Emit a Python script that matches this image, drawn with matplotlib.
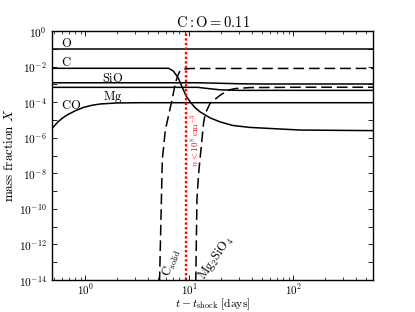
import matplotlib
matplotlib.use("Agg")
import matplotlib.pyplot as plt
from matplotlib.ticker import LogLocator, FuncFormatter, NullLocator
import numpy as np

plt.rcParams['mathtext.fontset'] = 'cm'
plt.rcParams['font.family'] = 'serif'

# ---- data ----
t_O = [0.48, 600]
X_O = [0.093, 0.093]

t_C = [0.48, 6.3, 7.0, 7.8, 8.5, 9.3, 10.2, 11.4, 12.7, 15.8, 19.8, 26, 38, 60, 116, 600]
X_C = [8.0e-3, 8.0e-3, 5.6e-3, 2.3e-3, 7.1e-4, 2.2e-4, 1.0e-4, 4.7e-5, 2.8e-5,
       1.3e-5, 7.7e-6, 4.9e-6, 3.8e-6, 3.3e-6, 2.7e-6, 2.5e-6]

t_SiO = [0.48, 12, 20, 30, 50, 600]
X_SiO = [1.23e-3, 1.23e-3, 1.15e-3, 1.08e-3, 1.05e-3, 1.05e-3]

t_Mg = [0.48, 12, 16, 20, 30, 600]
X_Mg = [6.8e-4, 6.8e-4, 5.6e-4, 4.9e-4, 4.6e-4, 4.6e-4]

t_CO = [0.48, 0.535, 0.597, 0.667, 0.80, 0.96, 1.16, 1.39, 2.0, 3.4, 6.1, 600]
X_CO = [3.4e-6, 7.0e-6, 1.24e-5, 1.9e-5, 3.3e-5, 5.1e-5, 6.7e-5, 7.9e-5, 9.0e-5,
        9.3e-5, 9.3e-5, 9.3e-5]

t_Csol = [5.1, 5.16, 5.48, 5.86, 6.79, 7.31, 7.76, 8.16, 8.9, 10.2, 600]
X_Csol = [1e-15, 1e-14, 5.6e-8, 2.7e-6, 1.3e-4, 1.15e-3, 3.4e-3, 6.0e-3, 7.3e-3, 7.8e-3, 7.9e-3]

t_Mg2 = [11.45, 11.5, 11.8, 12.2, 12.7, 13.65, 14.2, 15.8, 19.8, 23.7, 27.5, 38, 116, 600]
X_Mg2 = [1e-15, 1e-14, 3.2e-10, 7.9e-9, 8.5e-8, 6.5e-6, 2.3e-5, 8.7e-5, 2.5e-4,
         4.8e-4, 5.8e-4, 6.6e-4, 6.9e-4, 6.9e-4]

t_density = 9.25

species_labels = ['O', 'C', 'SiO', 'Mg', 'CO']
label_t = [0.66, 0.65, 1.85, 1.82, 0.72]
label_X = [0.19, 0.0163, 2.1e-3, 1.95e-4, 6.2e-5]

# ---- figure ----
fig = plt.figure(figsize=(4.15, 3.12), dpi=100)
ax = fig.add_axes([0.126, 0.1026, 0.7735, 0.798])

lw = 1.1
for t, X in [(t_O, X_O), (t_C, X_C), (t_SiO, X_SiO), (t_Mg, X_Mg), (t_CO, X_CO)]:
    ax.plot(t, X, color='black', lw=lw)
for t, X in [(t_Csol, X_Csol), (t_Mg2, X_Mg2)]:
    ax.plot(t, X, color='black', lw=lw, dashes=(7, 3.2))

ax.axvline(t_density, color='red', lw=1.7, dashes=(1, 0.95), dash_capstyle='butt')

ax.set_xscale('log')
ax.set_yscale('log')
ax.set_xlim(0.48, 585)
ax.set_ylim(1e-14, 1)

ax.yaxis.set_major_locator(LogLocator(base=10, numticks=30))
ax.yaxis.set_minor_locator(NullLocator())
ax.yaxis.set_major_formatter(FuncFormatter(
    lambda v, p: (r'$10^{%d}$' % int(round(np.log10(v)))) if int(round(np.log10(v))) % 2 == 0 else ''))
ax.xaxis.set_major_formatter(FuncFormatter(lambda v, p: r'$10^{%d}$' % int(round(np.log10(v)))))
ax.xaxis.set_minor_locator(LogLocator(base=10, subs=np.arange(2, 10), numticks=30))

ax.tick_params(which='both', direction='in', top=True, right=True, labelsize=8.2)
ax.tick_params(axis='y', pad=4)
ax.tick_params(axis='x', pad=1.5, labelsize=8.0)
ax.tick_params(which='major', length=3.5, width=0.6)
ax.tick_params(which='minor', length=2, width=0.5)
for s in ax.spines.values():
    s.set_linewidth(1.0)

for lab, tx, Xy in zip(species_labels, label_t, label_X):
    ax.text(tx, Xy, r'$\mathrm{%s}$' % lab, fontsize=9, ha='center', va='center')

ax.text(6.75, 9e-14, r'$\mathrm{C_{solid}}$', fontsize=9, rotation=70, ha='center', va='center')
ax.text(18.0, 1.7e-13, r'$\mathrm{Mg_2SiO_4}$', fontsize=9, rotation=55, ha='center', va='center')
ax.text(11.4, 7.5e-7, r'$n<10^8\ \mathrm{cm^{-3}}$', fontsize=6.5, rotation=90,
        color='red', ha='center', va='center')

ax.set_title(r'$\mathrm{C:O}=0.11$', fontsize=10.5, pad=3)
ax.set_xlabel(r'$t-t_{\mathrm{shock}}\ [\mathrm{days}]$', fontsize=8.4, va='center')
ax.xaxis.set_label_coords(0.5, -0.097)
ax.set_ylabel(r'$\mathrm{mass\ fraction}\ X$', fontsize=9.5, labelpad=2)

fig.savefig('out.png', dpi=100)
